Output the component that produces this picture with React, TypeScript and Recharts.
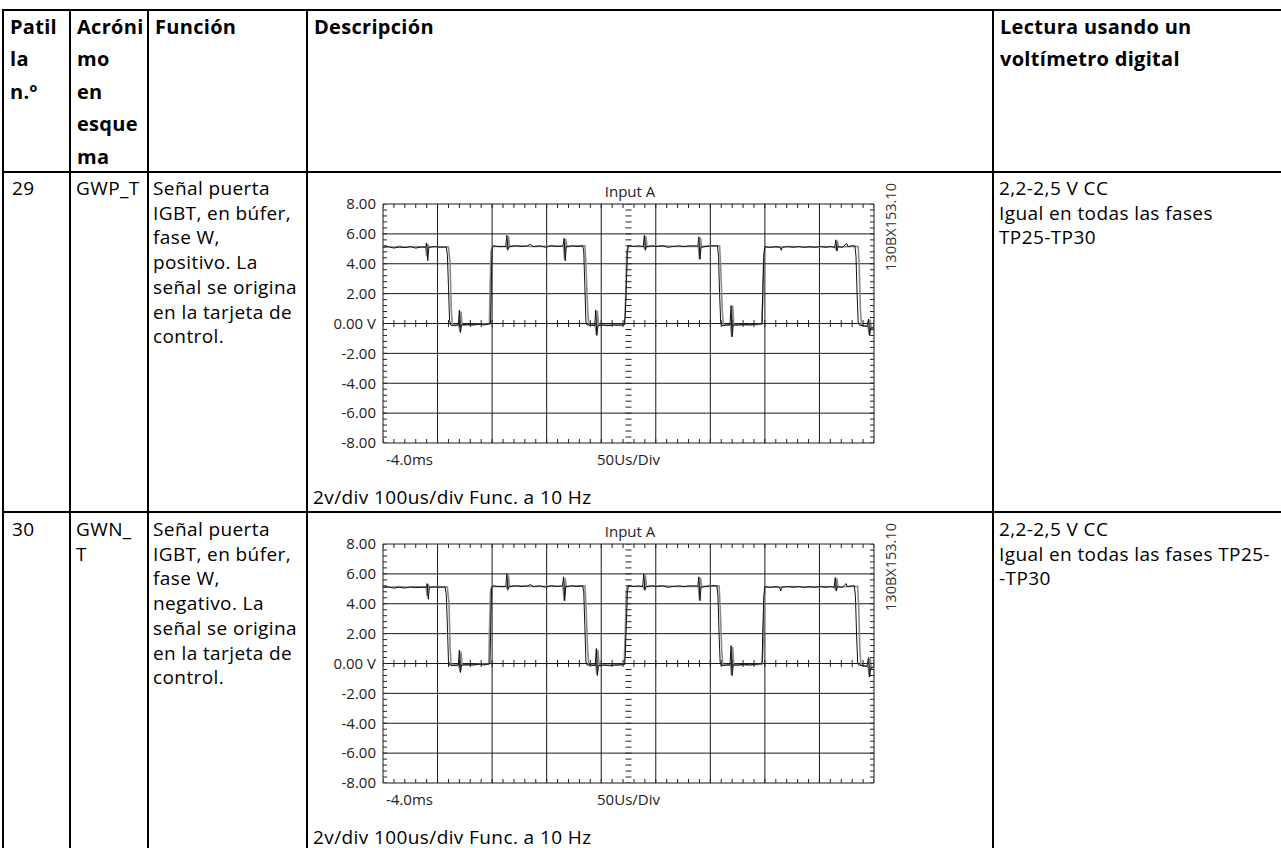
import React from 'react';
import { ComposedChart, Line, XAxis, YAxis, ReferenceLine, Scatter } from 'recharts';

// oscilloscope axes: 9 time divisions, ±8 V
const voltTicks = [-8, -6, -4, -2, 0, 2, 4, 6, 8];
const divisionLines = [0, 1, 2, 3, 4, 5, 6, 7, 8, 9];
const timeTicks = [0, 4.5];
const timeTickLabels = ['-4.0ms', '50Us/Div'];

// table text
const headerCols = [
  ['Patil', 'la', 'n.º'],
  ['Acróni', 'mo', 'en', 'esque', 'ma'],
  ['Función'],
  ['Descripción'],
  ['Lectura usando un', 'voltímetro digital'],
];
const row1Cols = [
  ['29'],
  ['GWP_T'],
  ['Señal puerta', 'IGBT, en búfer,', 'fase W,', 'positivo. La', 'señal se origina', 'en la tarjeta de', 'control.'],
  ['2,2-2,5 V CC', 'Igual en todas las fases', 'TP25-TP30'],
];
const row2Cols = [
  ['30'],
  ['GWN_', 'T'],
  ['Señal puerta', 'IGBT, en búfer,', 'fase W,', 'negativo. La', 'señal se origina', 'en la tarjeta de', 'control.'],
  ['2,2-2,5 V CC', 'Igual en todas las fases TP25-', '-TP30'],
];
const scopeTitle = 'Input A';
const scopeId = '130BX153.10';
const scopeCaption = '2v/div 100us/div Func. a 10 Hz';

// traces: [time in divisions, volts]
const gwpBlack = [
  [0, 5.1], [0.1, 5.15], [0.2, 5.05], [0.3, 5.12], [0.4, 5.08], [0.5, 5.15], [0.6, 5.05], [0.7, 5.12], [0.78, 5.1],
  [0.8, 5.4], [0.82, 4.2], [0.84, 5.1], [0.95, 5.15], [1.05, 5.1], [1.16, 5.12],
  [1.18, 4.6], [1.2, 2.5], [1.22, 0.2], [1.24, -0.1], [1.3, -0.15], [1.38, -0.1],
  [1.4, 0.9], [1.42, -0.6], [1.44, -0.1], [1.55, -0.05], [1.65, -0.1], [1.75, -0.05], [1.85, -0.1], [1.97, 0],
  [1.98, 1.5], [1.99, 3.5], [2.0, 5.0], [2.02, 5.2], [2.12, 5.15], [2.25, 5.15],
  [2.27, 5.9], [2.29, 4.95], [2.31, 5.15], [2.42, 5.2], [2.55, 5.15], [2.65, 5.2], [2.7, 5.3], [2.75, 5.15],
  [2.88, 5.2], [2.98, 5.1], [3.08, 5.2], [3.18, 5.15], [3.3, 5.2],
  [3.32, 5.7], [3.34, 4.2], [3.36, 5.15], [3.47, 5.2], [3.56, 5.15], [3.66, 5.2],
  [3.68, 4.8], [3.7, 2.5], [3.72, 0.1], [3.74, -0.1], [3.8, -0.1], [3.88, -0.15],
  [3.9, 0.9], [3.92, -0.8], [3.94, -0.15], [4.02, -0.1], [4.12, -0.15], [4.22, -0.1], [4.32, -0.12], [4.42, -0.1],
  [4.44, 0.5], [4.46, 2.5], [4.48, 4.8], [4.5, 5.2], [4.6, 5.15], [4.68, 5.2], [4.77, 5.15],
  [4.79, 5.9], [4.81, 4.9], [4.83, 5.15], [4.92, 5.2], [5.02, 5.15], [5.12, 5.2], [5.22, 5.1], [5.32, 5.15],
  [5.42, 5.2], [5.52, 5.15], [5.62, 5.2], [5.77, 5.18],
  [5.79, 5.8], [5.81, 4.3], [5.83, 5.1], [5.92, 5.15], [6.02, 5.2], [6.13, 5.2],
  [6.15, 4.5], [6.17, 2.0], [6.19, 0.1], [6.21, -0.15], [6.3, -0.1], [6.36, -0.1],
  [6.38, 1.2], [6.4, -0.9], [6.42, -0.1], [6.52, -0.1], [6.62, -0.05], [6.72, -0.1], [6.82, -0.05], [6.95, 0],
  [6.96, 2.0], [6.98, 4.5], [7.0, 5.15], [7.1, 5.1], [7.2, 5.15], [7.28, 5.1],
  [7.3, 4.9], [7.32, 5.1], [7.42, 5.15], [7.52, 5.1], [7.62, 5.15], [7.72, 5.1], [7.82, 5.15], [7.92, 5.1],
  [8.02, 5.15], [8.12, 5.1], [8.2, 5.15], [8.28, 5.1],
  [8.3, 5.6], [8.32, 4.85], [8.34, 5.15], [8.42, 5.1], [8.5, 5.35], [8.52, 5.15], [8.6, 5.2], [8.65, 5.2],
  [8.67, 4.5], [8.69, 2.0], [8.71, 0.1], [8.73, -0.1], [8.8, -0.15], [8.87, -0.2],
  [8.9, 0.3], [8.92, -0.8], [8.94, -0.3], [9.0, -0.3],
];
const gwpGray = [
  [0, 5.15], [0.15, 5.1], [0.3, 5.15], [0.45, 5.1], [0.6, 5.15], [0.78, 5.12],
  [0.8, 4.5], [0.82, 5.3], [0.84, 5.12], [1.0, 5.15], [1.2, 5.12],
  [1.23, 4.0], [1.25, 1.0], [1.27, -0.05], [1.33, -0.1], [1.39, -0.1],
  [1.41, -0.55], [1.43, 0.8], [1.45, -0.1], [1.6, -0.1], [1.75, -0.05], [1.95, -0.05],
  [1.96, 2.0], [1.98, 4.8], [2.0, 5.15], [2.15, 5.15], [2.26, 5.15],
  [2.28, 5.0], [2.3, 5.85], [2.32, 5.15], [2.5, 5.2], [2.7, 5.15], [2.9, 5.15], [3.1, 5.2], [3.31, 5.15],
  [3.33, 4.3], [3.35, 5.65], [3.37, 5.15], [3.55, 5.2], [3.7, 5.2],
  [3.72, 4.0], [3.75, 1.0], [3.77, -0.05], [3.89, -0.1],
  [3.91, -0.75], [3.93, 0.85], [3.95, -0.1], [4.1, -0.1], [4.3, -0.1], [4.43, -0.05],
  [4.45, 2.0], [4.47, 4.8], [4.49, 5.2], [4.65, 5.15], [4.78, 5.15],
  [4.8, 4.95], [4.82, 5.85], [4.84, 5.15], [5.1, 5.2], [5.4, 5.15], [5.78, 5.15],
  [5.8, 4.3], [5.82, 5.75], [5.84, 5.15], [6.0, 5.2], [6.17, 5.2],
  [6.19, 3.8], [6.22, 0.8], [6.24, -0.1], [6.37, -0.1],
  [6.39, -0.85], [6.41, 1.2], [6.43, -0.1], [6.6, -0.1], [6.8, -0.08], [6.94, -0.05],
  [6.96, 1.5], [6.98, 4.5], [7.0, 5.1], [7.2, 5.1], [7.5, 5.15], [7.8, 5.1], [8.1, 5.15], [8.29, 5.12],
  [8.31, 4.9], [8.33, 5.55], [8.35, 5.12], [8.6, 5.15], [8.71, 5.15],
  [8.73, 3.8], [8.75, 1.0], [8.77, -0.1], [8.89, -0.2],
  [8.91, -0.75], [8.93, 0.25], [8.95, -0.3], [9.0, -0.2],
];
const gwnBlack = [
  [0, 5.1], [0.1, 5.12], [0.2, 5.05], [0.3, 5.1], [0.4, 5.05], [0.5, 5.12], [0.6, 5.08], [0.7, 5.1], [0.79, 5.1],
  [0.81, 5.35], [0.83, 4.3], [0.85, 5.1], [0.95, 5.12], [1.05, 5.1], [1.14, 5.12],
  [1.16, 4.6], [1.18, 2.5], [1.2, 0.2], [1.22, -0.1], [1.3, -0.15], [1.38, -0.1],
  [1.4, 0.9], [1.42, -0.6], [1.44, -0.1], [1.55, -0.08], [1.65, -0.1], [1.75, -0.05], [1.85, -0.1], [1.96, 0],
  [1.97, 1.5], [1.98, 3.5], [1.99, 5.0], [2.01, 5.2], [2.12, 5.15], [2.25, 5.15],
  [2.27, 6.0], [2.29, 4.95], [2.31, 5.15], [2.42, 5.2], [2.55, 5.15], [2.65, 5.2], [2.7, 5.28], [2.75, 5.15],
  [2.88, 5.2], [2.98, 5.1], [3.08, 5.2], [3.18, 5.15], [3.29, 5.2],
  [3.31, 5.8], [3.33, 4.2], [3.35, 5.15], [3.46, 5.2], [3.56, 5.15], [3.66, 5.2],
  [3.68, 4.8], [3.7, 2.5], [3.72, 0.1], [3.74, -0.1], [3.8, -0.1], [3.89, -0.15],
  [3.91, 1.0], [3.93, -0.8], [3.95, -0.15], [4.05, -0.1], [4.15, -0.15], [4.25, -0.1], [4.35, -0.1], [4.43, -0.05],
  [4.44, 0.5], [4.46, 2.5], [4.48, 4.8], [4.5, 5.2], [4.6, 5.15], [4.68, 5.2], [4.76, 5.15],
  [4.78, 6.0], [4.8, 4.9], [4.82, 5.15], [4.92, 5.2], [5.02, 5.15], [5.12, 5.2], [5.22, 5.1], [5.32, 5.15],
  [5.42, 5.2], [5.52, 5.15], [5.62, 5.2], [5.77, 5.18],
  [5.79, 5.8], [5.81, 4.2], [5.83, 5.1], [5.92, 5.15], [6.02, 5.2], [6.12, 5.2],
  [6.14, 4.5], [6.16, 2.0], [6.18, 0.1], [6.2, -0.15], [6.3, -0.1], [6.36, -0.1],
  [6.38, 1.2], [6.4, -0.8], [6.42, -0.1], [6.52, -0.1], [6.62, -0.05], [6.72, -0.1], [6.82, -0.05], [6.95, 0],
  [6.96, 2.0], [6.98, 4.5], [7.0, 5.15], [7.1, 5.1], [7.2, 5.15], [7.27, 5.1],
  [7.29, 4.85], [7.31, 5.1], [7.42, 5.15], [7.52, 5.1], [7.62, 5.15], [7.72, 5.1], [7.82, 5.15], [7.92, 5.1],
  [8.02, 5.15], [8.12, 5.1], [8.2, 5.15], [8.27, 5.1],
  [8.29, 5.75], [8.31, 4.85], [8.33, 5.15], [8.42, 5.1], [8.49, 5.35], [8.51, 5.15], [8.6, 5.2], [8.64, 5.2],
  [8.66, 4.5], [8.68, 2.0], [8.7, 0.1], [8.72, -0.1], [8.8, -0.15], [8.87, -0.2],
  [8.9, 0.4], [8.92, -0.9], [8.94, -0.3], [9.0, -0.2],
];
const gwnGray = [
  [0, 5.15], [0.15, 5.1], [0.3, 5.15], [0.45, 5.1], [0.6, 5.15], [0.79, 5.12],
  [0.81, 4.5], [0.83, 5.3], [0.85, 5.12], [1.0, 5.15], [1.18, 5.12],
  [1.21, 4.0], [1.23, 1.0], [1.25, -0.05], [1.33, -0.1], [1.39, -0.1],
  [1.41, -0.55], [1.43, 0.8], [1.45, -0.1], [1.6, -0.1], [1.75, -0.05], [1.94, -0.05],
  [1.95, 2.0], [1.97, 4.8], [1.99, 5.15], [2.15, 5.15], [2.26, 5.15],
  [2.28, 5.0], [2.3, 5.9], [2.32, 5.15], [2.5, 5.2], [2.7, 5.15], [2.9, 5.15], [3.1, 5.2], [3.3, 5.15],
  [3.32, 4.2], [3.34, 5.7], [3.36, 5.15], [3.55, 5.2], [3.7, 5.2],
  [3.72, 4.0], [3.75, 1.0], [3.77, -0.05], [3.9, -0.1],
  [3.92, -0.75], [3.94, 0.9], [3.96, -0.1], [4.1, -0.1], [4.3, -0.1], [4.42, -0.05],
  [4.44, 2.0], [4.46, 4.8], [4.48, 5.2], [4.65, 5.15], [4.77, 5.15],
  [4.79, 4.95], [4.81, 5.9], [4.83, 5.15], [5.1, 5.2], [5.4, 5.15], [5.78, 5.15],
  [5.8, 4.3], [5.82, 5.75], [5.84, 5.15], [6.0, 5.2], [6.16, 5.2],
  [6.18, 3.8], [6.21, 0.8], [6.23, -0.1], [6.37, -0.1],
  [6.39, -0.8], [6.41, 1.1], [6.43, -0.1], [6.6, -0.1], [6.8, -0.08], [6.95, -0.05],
  [6.97, 1.5], [6.99, 4.5], [7.01, 5.1], [7.2, 5.1], [7.5, 5.15], [7.8, 5.1], [8.1, 5.15], [8.28, 5.12],
  [8.3, 4.9], [8.32, 5.7], [8.34, 5.12], [8.6, 5.15], [8.7, 5.15],
  [8.72, 3.8], [8.74, 1.0], [8.76, -0.1], [8.89, -0.2],
  [8.91, -0.85], [8.93, 0.35], [8.95, -0.3], [9.0, -0.25],
];

// minor graticule marks (5 per division)
const minorT = Array.from({ length: 46 }, (_, i) => i / 5);
const minorV = Array.from({ length: 41 }, (_, i) => -8 + i * 0.4);

const toPts = (arr: number[][]) => arr.map(([t, v]) => ({ t, v }));
const FONT = '"Open Sans", sans-serif';

const markShape = (dx1: number, dy1: number, dx2: number, dy2: number) => (p: any) => (
  <line x1={p.cx + dx1} y1={p.cy + dy1} x2={p.cx + dx2} y2={p.cy + dy2} stroke="#222" strokeWidth={1} />
);

const TimeTick = ({ x, y, payload }: any) => {
  const i = timeTicks.indexOf(payload.value);
  return (
    <text x={i === 0 ? x + 3 : x} y={y + 20} textAnchor={i === 0 ? 'start' : 'middle'}
      fontSize={15} fill="#222" fontFamily={FONT}>
      {timeTickLabels[i]}
    </text>
  );
};

const Scope = ({ black, gray, top }: { black: number[][]; gray: number[][]; top: number }) => (
  <>
    <div style={{ position: 'absolute', left: 307, top }}>
      <ComposedChart width={686} height={300} margin={{ top: 32, right: 119, bottom: 5, left: 6 }}>
        <XAxis xAxisId={0} dataKey="t" type="number" domain={[0, 9]} allowDataOverflow ticks={timeTicks}
          tick={<TimeTick />} axisLine={false} tickLine={false} tickSize={0} height={24} />
        <YAxis yAxisId={0} dataKey="v" type="number" domain={[-8, 8]} allowDataOverflow ticks={voltTicks}
          tickFormatter={(v: number) => (v === 0 ? '0.00 V' : v.toFixed(2))}
          axisLine={false} tickLine={false} tickSize={0} tickMargin={7} width={70}
          tick={{ fontSize: 15, fill: '#222', fontFamily: FONT }} />
        {divisionLines.map((d) => (
          <ReferenceLine key={'x' + d} x={d} stroke="#1a1a1a" strokeWidth={1} />
        ))}
        {voltTicks.map((v) => (
          <ReferenceLine key={'y' + v} y={v} stroke="#1a1a1a" strokeWidth={1} />
        ))}
        <Scatter data={minorT.map((t) => ({ t, v: 8 }))} dataKey="v" isAnimationActive={false} shape={markShape(0, 0, 0, 4)} />
        <Scatter data={minorT.map((t) => ({ t, v: -8 }))} dataKey="v" isAnimationActive={false} shape={markShape(0, 0, 0, -4)} />
        <Scatter data={minorT.map((t) => ({ t, v: 0 }))} dataKey="v" isAnimationActive={false} shape={markShape(0, -3.5, 0, 3.5)} />
        <Scatter data={minorV.map((v) => ({ t: 0, v }))} dataKey="v" isAnimationActive={false} shape={markShape(0, 0, 4, 0)} />
        <Scatter data={minorV.map((v) => ({ t: 9, v }))} dataKey="v" isAnimationActive={false} shape={markShape(0, 0, -4, 0)} />
        <Scatter data={minorV.map((v) => ({ t: 4.5, v }))} dataKey="v" isAnimationActive={false} shape={markShape(-3, 0, 3, 0)} />
        <Line data={toPts(gray)} dataKey="v" type="linear" stroke="#8c8c8c" strokeWidth={1.6} dot={false} isAnimationActive={false} />
        <Line data={toPts(black)} dataKey="v" type="linear" stroke="#111" strokeWidth={1} dot={false} isAnimationActive={false} />
      </ComposedChart>
    </div>
    <div style={{ position: 'absolute', left: 630, top: top + 19, transform: 'translate(-50%,-50%)', fontSize: 15, color: '#222', whiteSpace: 'nowrap' }}>
      {scopeTitle}
    </div>
    <div style={{ position: 'absolute', left: 890, top: top + 55, transform: 'translate(-50%,-50%) rotate(-90deg)', fontSize: 14.5, color: '#333', whiteSpace: 'nowrap' }}>
      {scopeId}
    </div>
    <div style={{ position: 'absolute', left: 313, top: top + 325 - 12.5, lineHeight: '25px', fontSize: 19, letterSpacing: 0.4, whiteSpace: 'nowrap' }}>
      {scopeCaption}
    </div>
  </>
);

const colX = [3, 70, 148, 307, 993];
const rowY = [10, 172, 512, 852];
const bodyPad = [9, 6, 5, 6];

const Cell = ({ lines, x, y, lh, bold }: { lines: string[]; x: number; y: number; lh: number; bold?: boolean }) => (
  <div style={{ position: 'absolute', left: x, top: y, lineHeight: lh + 'px', fontSize: bold ? 20 : 19, fontWeight: bold ? 700 : 400, letterSpacing: bold ? 0.3 : 0.4, whiteSpace: 'nowrap' }}>
    {lines.map((l, i) => <div key={i}>{l}</div>)}
  </div>
);

export default function App() {
  const bodyCols = [0, 1, 2, 4];
  return (
    <div style={{ position: 'relative', width: 1281, height: 848, overflow: 'hidden', background: '#fff', fontFamily: FONT, color: '#000' }}>
      <style>{'body{margin:0;overflow:hidden}'}</style>
      {rowY.map((y) => (
        <div key={'h' + y} style={{ position: 'absolute', left: colX[0] - 1, top: y - 1, width: 1300, height: 2, background: '#000' }} />
      ))}
      {colX.map((x) => (
        <div key={'v' + x} style={{ position: 'absolute', left: x - 1, top: rowY[0] - 1, width: 2, height: 860, background: '#000' }} />
      ))}
      {headerCols.map((lines, i) => (
        <Cell key={'hd' + i} lines={lines} x={colX[i] + 7} y={rowY[0] + 1} lh={32.4} bold />
      ))}
      {row1Cols.map((lines, i) => (
        <Cell key={'r1' + i} lines={lines} x={colX[bodyCols[i]] + bodyPad[i]} y={rowY[1] + 4} lh={24.7} />
      ))}
      {row2Cols.map((lines, i) => (
        <Cell key={'r2' + i} lines={lines} x={colX[bodyCols[i]] + bodyPad[i]} y={rowY[2] + 5} lh={24.7} />
      ))}
      <Scope black={gwpBlack} gray={gwpGray} top={rowY[1]} />
      <Scope black={gwnBlack} gray={gwnGray} top={rowY[2]} />
    </div>
  );
}
